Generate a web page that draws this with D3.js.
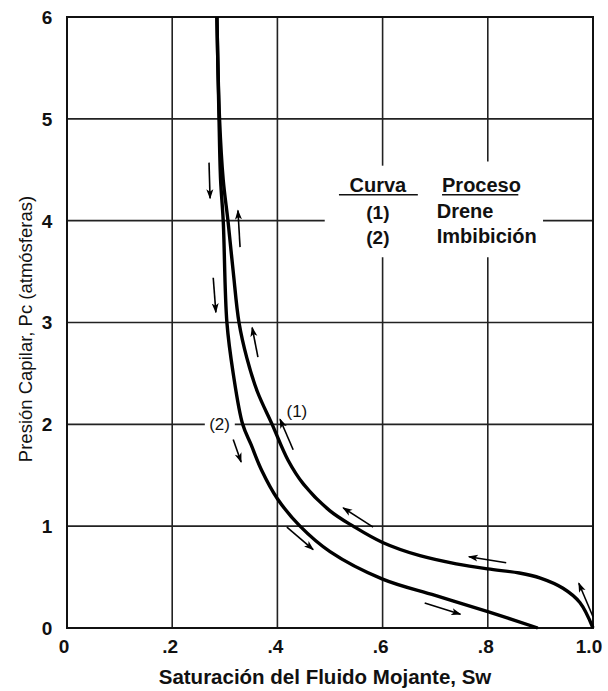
<!DOCTYPE html>
<html><head><meta charset="utf-8">
<script src="https://cdn.jsdelivr.net/npm/d3@7"></script>
<style>
body{margin:0;background:#fff;}
text{font-family:"Liberation Sans",Arial,sans-serif;}
</style></head>
<body><svg id="c" width="608" height="691"></svg>
<script>
// ---- data ----
const xTicks = [0, 0.2, 0.4, 0.6, 0.8, 1.0];
const xTickLabels = ["0", ".2", ".4", ".6", ".8", "1.0"];
const yTicks = [0, 1, 2, 3, 4, 5, 6];
const yTickLabels = ["0", "1", "2", "3", "4", "5", "6"];
// Curve (1) Drene
const sw1 = [0.285, 0.290, 0.297, 0.306, 0.316, 0.327, 0.342, 0.362, 0.390, 0.420, 0.450, 0.500, 0.544, 0.600, 0.671, 0.740, 0.800, 0.860, 0.900, 0.943, 0.975, 1.000];
const pc1 = [6.00, 5.00, 4.40, 4.00, 3.50, 3.00, 2.65, 2.32, 2.00, 1.65, 1.41, 1.15, 1.00, 0.84, 0.71, 0.63, 0.58, 0.54, 0.49, 0.39, 0.25, 0.00];
// Curve (2) Imbibición
const sw2 = [0.285, 0.289, 0.292, 0.297, 0.304, 0.316, 0.334, 0.350, 0.370, 0.400, 0.443, 0.500, 0.600, 0.700, 0.800, 0.895];
const pc2 = [6.00, 5.00, 4.40, 4.00, 3.00, 2.50, 2.00, 1.80, 1.55, 1.27, 1.00, 0.75, 0.48, 0.32, 0.16, 0.00];
// direction arrows: [sw start, pc start, sw end(head), pc end(head)]
const arrows = [
  [0.270, 4.57, 0.272, 4.22],
  [0.329, 3.74, 0.325, 4.10],
  [0.278, 3.44, 0.283, 3.10],
  [0.363, 2.66, 0.352, 2.95],
  [0.316, 1.85, 0.331, 1.63],
  [0.430, 1.75, 0.405, 2.05],
  [0.582, 0.99, 0.525, 1.18],
  [0.418, 0.99, 0.468, 0.77],
  [0.680, 0.245, 0.748, 0.135],
  [0.835, 0.64, 0.764, 0.70],
  [1.000, 0.11, 0.973, 0.44]
];
const legendCurves = ["(1)", "(2)"];
const legendProcesses = ["Drene", "Imbibición"];

// ---- layout ----
const svg = d3.select("#c");
const x = d3.scaleLinear().domain([0, 1]).range([67, 593]);
const y = d3.scaleLinear().domain([0, 6]).range([628, 17]);

// gridlines (with gaps where labels sit)
const grid = svg.append("g").attr("stroke", "#222").attr("stroke-width", 1.6);
const hSegs = [
  [1, 0, 1], [3, 0, 1], [5, 0, 1],
  [2, 0, 0.262], [2, 0.319, 1],
  [4, 0, 0.49], [4, 0.905, 1]
];
hSegs.forEach(s => grid.append("line").attr("x1", x(s[1])).attr("x2", x(s[2])).attr("y1", y(s[0])).attr("y2", y(s[0])));
const vSegs = [
  [0.2, 0, 6], [0.4, 0, 6],
  [0.6, 0, 3.64], [0.6, 4.54, 6],
  [0.8, 0, 3.64], [0.8, 4.58, 6]
];
vSegs.forEach(s => grid.append("line").attr("x1", x(s[0])).attr("x2", x(s[0])).attr("y1", y(s[1])).attr("y2", y(s[2])));

// frame
svg.append("rect").attr("x", x(0)).attr("y", y(6)).attr("width", x(1) - x(0)).attr("height", y(0) - y(6))
  .attr("fill", "none").attr("stroke", "#111").attr("stroke-width", 2);

// tick labels
svg.append("g").selectAll("text").data(yTicks).join("text")
  .attr("x", 47).attr("y", d => y(d)).attr("dy", "0.36em").attr("text-anchor", "middle")
  .attr("font-size", 19).attr("font-weight", "bold").attr("fill", "#111")
  .text((d, i) => yTickLabels[i]);
svg.append("g").selectAll("text").data(xTicks).join("text")
  .attr("x", (d, i) => x(d) + (i === 0 ? -3 : (i === 5 ? -4 : -2))).attr("y", 653).attr("text-anchor", "middle")
  .attr("font-size", 19).attr("font-weight", "bold").attr("fill", "#111")
  .text((d, i) => xTickLabels[i]);

// axis titles
svg.append("text").attr("x", 325).attr("y", 684).attr("text-anchor", "middle")
  .attr("font-size", 20.5).attr("font-weight", "bold").attr("fill", "#111")
  .text("Saturación del Fluido Mojante, Sw");
svg.append("text").attr("transform", "translate(32,329) rotate(-90)").attr("text-anchor", "middle")
  .attr("font-size", 18.5).attr("fill", "#111")
  .text("Presión Capilar, Pc (atmósferas)");

// curves
const line = d3.line().x(d => x(d[0])).y(d => y(d[1])).curve(d3.curveCatmullRom.alpha(0.5));
svg.append("path").datum(sw1.map((s, i) => [s, pc1[i]])).attr("d", line)
  .attr("fill", "none").attr("stroke", "#000").attr("stroke-width", 3.4);
svg.append("path").datum(sw2.map((s, i) => [s, pc2[i]])).attr("d", line)
  .attr("fill", "none").attr("stroke", "#000").attr("stroke-width", 3.4);

// arrows
svg.append("defs").append("marker").attr("id", "ah").attr("viewBox", "0 0 10 10")
  .attr("refX", 9).attr("refY", 5).attr("markerWidth", 10).attr("markerHeight", 10)
  .attr("markerUnits", "userSpaceOnUse").attr("orient", "auto")
  .append("path").attr("d", "M0,1.5 L10,5 L0,8.5 L2.5,5 Z").attr("fill", "#000");
svg.append("g").selectAll("line").data(arrows).join("line")
  .attr("x1", d => x(d[0])).attr("y1", d => y(d[1]))
  .attr("x2", d => x(d[2])).attr("y2", d => y(d[3]))
  .attr("stroke", "#000").attr("stroke-width", 1.6).attr("marker-end", "url(#ah)");

// curve labels on the Pc=2 line
svg.append("text").attr("x", x(0.29)).attr("y", y(2)).attr("dy", "0.36em").attr("text-anchor", "middle")
  .attr("font-size", 17).attr("fill", "#111").text("(2)");
svg.append("text").attr("x", x(0.437)).attr("y", y(2.13)).attr("dy", "0.36em").attr("text-anchor", "middle")
  .attr("font-size", 17).attr("fill", "#111").text("(1)");

// legend
const lg = svg.append("g").attr("fill", "#111");
lg.append("text").attr("x", x(0.591)).attr("y", y(4.35)).attr("dy", "0.36em").attr("text-anchor", "middle")
  .attr("font-size", 20).attr("font-weight", "bold").text("Curva");
lg.append("text").attr("x", x(0.713)).attr("y", y(4.35)).attr("dy", "0.36em").attr("text-anchor", "start")
  .attr("font-size", 20).attr("font-weight", "bold").text("Proceso");
lg.append("line").attr("x1", x(0.517)).attr("x2", x(0.667)).attr("y1", y(4.255)).attr("y2", y(4.255))
  .attr("stroke", "#111").attr("stroke-width", 1.6);
lg.append("line").attr("x1", x(0.713)).attr("x2", x(0.858)).attr("y1", y(4.255)).attr("y2", y(4.255))
  .attr("stroke", "#111").attr("stroke-width", 1.6);
lg.selectAll("text.c").data(legendCurves).join("text").attr("class", "c")
  .attr("x", x(0.591)).attr("y", (d, i) => y(4.08 - i * 0.245)).attr("dy", "0.36em").attr("text-anchor", "middle")
  .attr("font-family", "'Liberation Serif','Times New Roman',serif").attr("font-size", 19).attr("font-weight", "bold")
  .text(d => d);
lg.selectAll("text.p").data(legendProcesses).join("text").attr("class", "p")
  .attr("x", x(0.703)).attr("y", (d, i) => y(4.1 - i * 0.245)).attr("dy", "0.36em").attr("text-anchor", "start")
  .attr("font-size", 20).attr("font-weight", "bold")
  .text(d => d);
</script></body></html>
